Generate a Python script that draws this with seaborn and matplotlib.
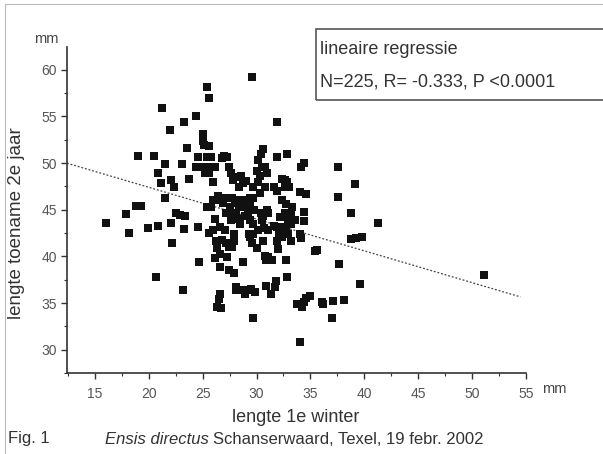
import numpy as np
import pandas as pd
import matplotlib
matplotlib.use("Agg")
import matplotlib.pyplot as plt
import seaborn as sns
from matplotlib.ticker import MultipleLocator
from matplotlib.patches import Rectangle

# ---- data ----
lengte_1e_winter = [
    16.0, 17.9, 18.2, 19.0, 18.8, 19.25, 19.9, 20.5, 20.9, 20.7,
    20.9, 21.1, 21.2, 21.5, 21.5, 22.0, 22.1, 22.3, 22.1, 22.2,
    22.5, 22.9, 23.1, 23.3, 23.2, 23.4, 23.3, 23.5, 23.7, 24.4,
    24.4, 24.6, 24.7, 24.6, 25.0, 25.0, 25.1, 25.1, 25.2, 25.4,
    25.6, 25.4, 25.6, 25.8, 25.9, 26.0, 25.6, 25.8, 26.0, 26.1,
    26.2, 26.1, 26.3, 26.5, 26.6, 26.8, 26.4, 26.5, 26.6, 26.6,
    26.6, 27.0, 26.9, 27.1, 27.1, 27.2, 27.3, 27.4, 27.5, 27.4,
    27.3, 27.4, 27.6, 27.75, 27.9, 27.9, 27.9, 27.8, 28.1, 28.1,
    28.2, 28.1, 28.4, 28.5, 28.6, 28.7, 28.75, 28.6, 28.9, 29.0,
    29.0, 29.2, 29.2, 29.4, 29.4, 29.3, 29.4, 29.6, 29.5, 29.6,
    29.7, 29.7, 29.7, 29.8, 29.7, 29.9, 30.0, 30.1, 30.1, 30.4,
    30.6, 30.3, 30.4, 30.5, 30.7, 30.6, 30.8, 30.9, 30.9, 31.0,
    31.0, 31.1, 31.1, 31.3, 31.6, 31.6, 31.8, 31.9, 31.9, 31.9,
    31.9, 32.0, 32.2, 32.4, 32.4, 32.5, 32.4, 32.6, 32.75, 32.8,
    32.8, 32.8, 32.7, 32.9, 33.0, 32.9, 33.3, 33.2, 33.2, 34.1,
    34.4, 34.0, 34.6, 34.0, 34.1, 34.4, 34.4, 34.0, 33.8, 34.2,
    34.4, 34.6, 35.0, 35.4, 35.6, 36.1, 36.2, 37.1, 37.0, 37.6,
    37.6, 37.7, 38.1, 38.75, 39.1, 38.75, 39.25, 39.75, 39.6, 41.25,
    51.1, 25.6, 26.0, 27.2, 27.6, 27.9, 29.0, 29.4, 30.1, 30.3,
    30.8, 31.1, 31.4, 31.9, 32.2, 32.6, 33.2, 26.7, 28.1, 29.3,
    26.1, 26.3, 28.0, 28.5, 29.7, 30.5, 30.8, 30.6, 32.6, 33.6,
    25.4, 26.8, 27.75, 28.4, 28.9, 30.0, 31.0, 31.7, 32.1, 32.7,
]
lengte_toename_2e_jaar = [
    43.6, 44.5, 42.5, 50.7, 45.4, 45.4, 43.0, 50.7, 43.3, 37.8,
    48.9, 47.9, 55.9, 49.9, 46.3, 53.5, 48.2, 47.4, 43.6, 41.4,
    44.6, 44.4, 49.9, 54.4, 36.4, 44.3, 42.9, 51.6, 48.3, 55.0,
    49.6, 43.2, 39.4, 50.6, 53.1, 52.4, 51.9, 49.6, 48.9, 58.1,
    57.0, 50.6, 51.8, 50.6, 49.6, 48.0, 42.5, 45.3, 42.8, 44.0,
    41.7, 39.8, 34.6, 35.4, 36.0, 50.5, 46.5, 46.0, 43.1, 40.3,
    38.9, 50.7, 45.7, 42.8, 46.3, 41.4, 50.6, 49.6, 45.3, 41.0,
    39.9, 38.5, 48.9, 46.3, 44.6, 38.2, 42.4, 48.2, 36.7, 44.6,
    44.0, 48.5, 47.4, 43.5, 48.6, 47.9, 39.4, 36.4, 36.0, 45.3,
    46.0, 45.6, 44.6, 46.3, 45.4, 42.4, 42.1, 41.4, 36.5, 59.2,
    33.4, 47.4, 43.5, 45.0, 42.4, 36.2, 49.2, 48.0, 50.3, 51.0,
    51.5, 48.6, 44.6, 43.9, 43.0, 41.6, 40.1, 39.6, 36.8, 45.0,
    48.9, 44.6, 39.9, 36.0, 47.4, 43.3, 37.4, 54.4, 50.6, 47.0,
    41.7, 40.8, 44.2, 46.0, 48.3, 43.1, 42.1, 44.6, 39.6, 37.8,
    51.0, 48.0, 45.6, 43.9, 47.4, 42.4, 45.3, 44.6, 43.5, 49.6,
    50.0, 46.9, 46.7, 42.4, 42.0, 44.75, 43.8, 30.8, 34.9, 34.6,
    35.1, 35.6, 35.8, 40.6, 40.7, 35.1, 34.9, 35.2, 33.4, 49.6,
    46.4, 39.2, 35.3, 44.6, 47.8, 41.9, 42.0, 42.1, 37.1, 43.6,
    38.0, 48.9, 46.0, 44.6, 43.9, 41.7, 48.1, 43.9, 42.8, 46.8,
    49.6, 42.8, 39.6, 43.1, 42.8, 48.2, 41.7, 34.5, 36.4, 36.4,
    49.6, 40.9, 45.7, 46.0, 46.3, 49.6, 47.4, 44.3, 47.4, 43.9,
    45.3, 41.8, 41.0, 45.3, 44.3, 40.9, 39.6, 36.7, 42.4, 42.8,
]
# regression line
fit_intercept = 54.2
fit_slope = -0.34
fit_x_range = [12.4, 54.5]

x_ticks = [15, 20, 25, 30, 35, 40, 45, 50, 55]
y_ticks = [30, 35, 40, 45, 50, 55, 60]

df = pd.DataFrame({"x": lengte_1e_winter, "y": lengte_toename_2e_jaar})

sns.set_theme(style="white")
plt.rcParams["font.family"] = ["Liberation Sans", "DejaVu Sans"]

fig = plt.figure(figsize=(6.03, 4.54), dpi=100)
fig.patch.set_facecolor("white")
ax = fig.add_axes([0.111, 0.178, 0.761, 0.718])

sns.scatterplot(data=df, x="x", y="y", marker="s", s=37, color="#111111",
                linewidth=0, ax=ax, zorder=3)

fx = np.array(fit_x_range)
ax.plot(fx, fit_intercept + fit_slope * fx, linestyle=(0, (1.5, 1.5)),
        color="#444444", linewidth=0.9, zorder=2)

ax.set_xlim(12.4, 55)
ax.set_ylim(27.5, 62.4)
ax.set_xticks(x_ticks)
ax.set_yticks(y_ticks)
ax.xaxis.set_minor_locator(MultipleLocator(2.5))
ax.yaxis.set_minor_locator(MultipleLocator(2.5))
ax.tick_params(axis="both", which="major", direction="out", length=4,
               width=1, color="#333333", labelsize=10, labelcolor="#555555",
               bottom=True, left=True)
ax.tick_params(axis="both", which="minor", direction="out", length=2.5,
               width=0.8, color="#333333", bottom=True, left=True)
ax.tick_params(axis="x", pad=6)
ax.tick_params(axis="y", pad=3)

for s in ["top", "right"]:
    ax.spines[s].set_visible(False)
for s in ["left", "bottom"]:
    ax.spines[s].set_color("#333333")
    ax.spines[s].set_linewidth(1.2)

ax.set_xlabel("")
ax.set_ylabel("")
ax.grid(False)

# axis unit labels
fig.text(34 / 603, 1 - 39 / 454, "mm", fontsize=10.5, color="#444444",
         ha="left", va="center")
fig.text(542 / 603, 1 - 389 / 454, "mm", fontsize=10.5, color="#444444",
         ha="left", va="center")

# axis titles
fig.text(17 / 603, 1 - 223 / 454, "lengte toename 2e jaar", rotation=90,
         fontsize=13.5, color="#333333", ha="center", va="center")
fig.text(296 / 603, 1 - 418 / 454, "lengte 1e winter", fontsize=13,
         color="#333333", ha="center", va="center")

# caption
fig.text(8 / 603, 1 - 439 / 454, "Fig. 1", fontsize=12, color="#333333",
         ha="left", va="center")
t_it = fig.text(105 / 603, 1 - 439 / 454, "Ensis directus", fontsize=12,
                style="italic", color="#333333", ha="left", va="center")
renderer = fig.canvas.get_renderer()
bb = t_it.get_window_extent(renderer=renderer)
fig.text((bb.x1 + 4) / (6.03 * 100), 1 - 439 / 454,
         "Schanserwaard, Texel, 19 febr. 2002",
         fontsize=12, color="#333333", ha="left", va="center")

# regression info box
fig.patches.append(Rectangle((316 / 603, 1 - 100 / 454), 290 / 603, 71 / 454,
                             transform=fig.transFigure, fill=False,
                             edgecolor="#555555", linewidth=1.2))
fig.text(320 / 603, 1 - 50 / 454, "lineaire regressie", fontsize=13,
         color="#333333", ha="left", va="center")
fig.text(320 / 603, 1 - 82 / 454, "N=225, R= -0.333, P <0.0001", fontsize=13,
         color="#333333", ha="left", va="center")

# faint page frame
fig.patches.append(Rectangle((5 / 603, -0.01), 1.0, 1 - 4 / 454 + 0.01,
                             transform=fig.transFigure, fill=False,
                             edgecolor="#bbbbbb", linewidth=0.8))

fig.savefig("out.png", dpi=100)
